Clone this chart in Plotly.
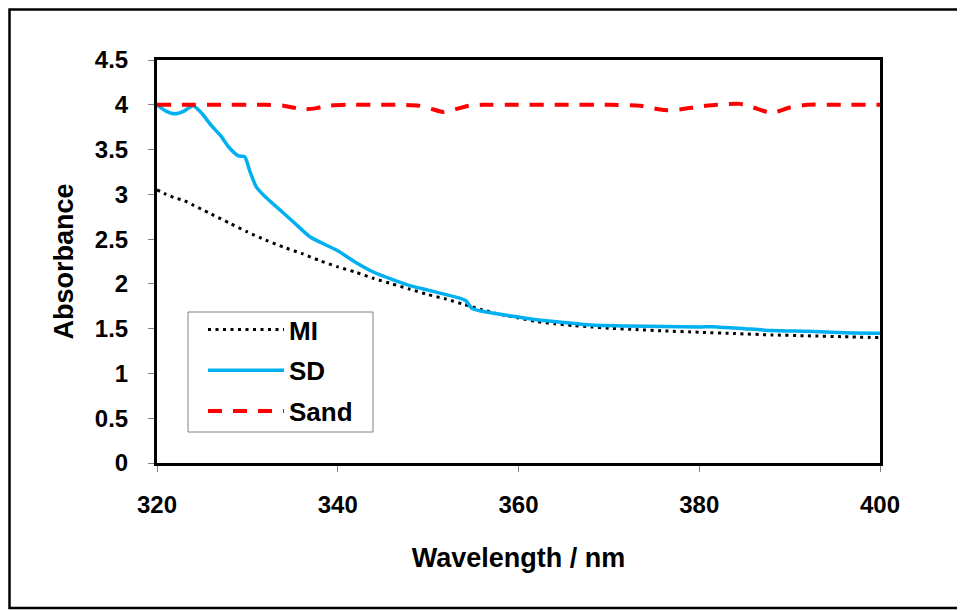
import plotly.graph_objects as go

# ---- data ----
mi_x = [320, 321, 322, 323, 324, 325, 326, 328, 330, 332, 334, 336, 338, 340, 342, 344, 346, 348, 350,
        352, 354, 356, 358, 360, 362, 364, 366, 368, 370, 373, 376, 380, 384, 388, 392, 396, 400]
mi_y = [3.05, 3.00, 2.96, 2.93, 2.88, 2.83, 2.78, 2.68, 2.58, 2.49, 2.41, 2.34, 2.26, 2.19, 2.13, 2.06,
        2.00, 1.94, 1.88, 1.83, 1.77, 1.71, 1.66, 1.62, 1.58, 1.555, 1.535, 1.52, 1.505, 1.49, 1.475,
        1.46, 1.445, 1.43, 1.42, 1.41, 1.40]

sd_x = [320, 321, 322, 323, 324, 325, 326, 327, 328, 329, 329.7, 330.3, 331, 332, 333, 335, 337, 339,
        340, 342, 344, 346, 348, 350, 352, 353.5, 354.2, 354.8, 355.7, 358, 360, 362, 365, 368, 372,
        376, 380, 382, 385, 388, 392, 396, 400]
sd_y = [4.00, 3.93, 3.90, 3.93, 3.99, 3.90, 3.77, 3.66, 3.52, 3.43, 3.42, 3.25, 3.08, 2.97, 2.88,
        2.70, 2.52, 2.42, 2.37, 2.24, 2.13, 2.05, 1.98, 1.93, 1.88, 1.84, 1.81, 1.73, 1.70, 1.66, 1.63,
        1.60, 1.57, 1.54, 1.53, 1.525, 1.52, 1.52, 1.50, 1.48, 1.47, 1.455, 1.45]

sand_x = [320, 322, 324, 326, 328, 330, 332, 334, 335.5, 336.5, 337.5, 339, 341, 344, 347, 349, 350.5,
          351.7, 353, 354.5, 356, 360, 365, 370, 373.5, 375.5, 376.5, 378, 380, 382, 384.5, 386, 387.5,
          388.5, 390, 392, 396, 400]
sand_y = [4.00, 4.00, 4.00, 4.00, 4.00, 4.00, 4.00, 3.99, 3.96, 3.95, 3.96, 3.99, 4.00, 4.00, 4.00,
          3.99, 3.95, 3.92, 3.95, 3.99, 4.00, 4.00, 4.00, 4.00, 3.99, 3.95, 3.94, 3.95, 3.98, 4.00,
          4.01, 3.97, 3.92, 3.92, 3.97, 4.00, 4.00, 4.00]

x_ticks = [320, 340, 360, 380, 400]
y_ticks = [0, 0.5, 1, 1.5, 2, 2.5, 3, 3.5, 4, 4.5]
y_ticktext = ["0", "0.5", "1", "1.5", "2", "2.5", "3", "3.5", "4", "4.5"]

FONT = "Liberation Sans, Arial, sans-serif"

fig = go.Figure()
fig.add_trace(go.Scatter(x=mi_x, y=mi_y, name="MI", mode="lines", legendgroup="a",
                         line=dict(color="black", width=3, dash="3px,4.5px", shape="spline", smoothing=0.6)))
fig.add_trace(go.Scatter(x=sd_x, y=sd_y, name="SD", mode="lines", legendgroup="b",
                         line=dict(color="#00B0F0", width=3.5, shape="spline", smoothing=0.6)))
fig.add_trace(go.Scatter(x=sand_x, y=sand_y, name="Sand", mode="lines", legendgroup="c",
                         line=dict(color="#FF0000", width=4, dash="14px,11px", shape="spline", smoothing=0.6)))

W, H = 965, 610
OFF = 8  # page body margin
# plot area in page pixels: x 157..880, y 60..463
PX0, PX1, PY0, PY1 = 157, 880, 60, 463
L = PX0 - OFF
R = W - (PX1 - OFF)
T = PY0 - OFF
B = H - (PY1 - OFF)

def px2paper_x(px):
    return (px - PX0) / (PX1 - PX0)

def px2paper_y(py):
    return (PY1 - py) / (PY1 - PY0)

# outer chart frame
fig.add_shape(type="rect", xref="paper", yref="paper",
              x0=px2paper_x(9.5), x1=px2paper_x(990), y0=px2paper_y(608), y1=px2paper_y(9.5),
              line=dict(color="black", width=2.5), fillcolor="rgba(0,0,0,0)", layer="below")
# legend frame
fig.add_shape(type="rect", xref="paper", yref="paper",
              x0=px2paper_x(188), x1=px2paper_x(373), y0=px2paper_y(432), y1=px2paper_y(312),
              line=dict(color="#808080", width=1), fillcolor="white", layer="below")

fig.update_layout(
    width=W, height=H,
    margin=dict(l=L, r=R, t=T, b=B, autoexpand=False),
    paper_bgcolor="white", plot_bgcolor="rgba(0,0,0,0)",
    font=dict(family=FONT, color="black"),
    showlegend=True,
    legend=dict(x=px2paper_x(203), y=px2paper_y(306), xanchor="left", yanchor="top",
                borderwidth=0, bgcolor="rgba(0,0,0,0)",
                font=dict(family=FONT, size=26, color="black", weight="bold"),
                tracegroupgap=4, itemwidth=76),
    xaxis=dict(range=[320, 400], tickvals=x_ticks, ticktext=[str(v) for v in x_ticks],
               showgrid=False, zeroline=False, showline=True, linecolor="black", linewidth=3,
               mirror=True, ticks="outside", ticklen=6, tickcolor="#808080", tickwidth=1,
               ticklabelstandoff=12,
               tickfont=dict(family=FONT, size=24, color="black", weight="bold"),
               title=dict(text="Wavelength / nm", standoff=32,
                          font=dict(family=FONT, size=27, color="black", weight="bold"))),
    yaxis=dict(range=[0, 4.5], tickvals=y_ticks, ticktext=y_ticktext,
               showgrid=False, zeroline=False, showline=True, linecolor="black", linewidth=3,
               mirror=True, ticks="outside", ticklen=6, tickcolor="#808080", tickwidth=1,
               ticklabelstandoff=15,
               tickfont=dict(family=FONT, size=24, color="black", weight="bold"),
               title=dict(text="Absorbance", standoff=14,
                          font=dict(family=FONT, size=27, color="black", weight="bold"))),
)

fig.write_html("out.html")
